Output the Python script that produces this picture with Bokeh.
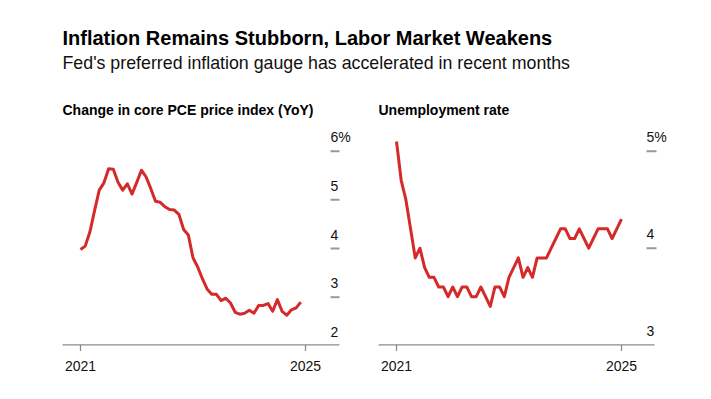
from bokeh.plotting import figure
from bokeh.models import Range1d
from bokeh.core.properties import value
from bokeh.embed import file_html
from bokeh.resources import INLINE

# ---------------- data ----------------
title = "Inflation Remains Stubborn, Labor Market Weakens"
subtitle = "Fed's preferred inflation gauge has accelerated in recent months"
left_title = "Change in core PCE price index (YoY)"
right_title = "Unemployment rate"

# months since Jan 2021
pce_months = list(range(48))
pce = [3.98, 4.05, 4.34, 4.78, 5.20, 5.35, 5.64, 5.63, 5.36, 5.20, 5.33, 5.12,
       5.36, 5.61, 5.47, 5.23, 4.97, 4.95, 4.86, 4.80, 4.79, 4.70, 4.39, 4.28,
       3.81, 3.62, 3.38, 3.17, 3.06, 3.06, 2.93, 2.98, 2.88, 2.69, 2.65, 2.67,
       2.73, 2.67, 2.83, 2.83, 2.87, 2.71, 2.95, 2.71, 2.63, 2.74, 2.78, 2.90]

unemp_months = list(range(49))
unemp = [5.1, 4.7, 4.5, 4.2, 3.9, 4.0, 3.8, 3.7, 3.7, 3.6, 3.6, 3.5,
         3.6, 3.5, 3.6, 3.6, 3.5, 3.5, 3.6, 3.5, 3.4, 3.6, 3.6, 3.5,
         3.7, 3.8, 3.9, 3.7, 3.8, 3.7, 3.9, 3.9, 3.9, 4.0, 4.1, 4.2,
         4.2, 4.1, 4.1, 4.2, 4.1, 4.0, 4.1, 4.2, 4.2, 4.2, 4.1, 4.2, 4.3]

x_tick_pos = [0, 48]
x_tick_labels = ["2021", "2025"]

pce_label_vals = [2, 3, 4, 5, 6]
pce_label_text = ["2", "3", "4", "5", "6%"]
pce_tick_vals = [3, 4, 5, 6]

unemp_label_vals = [3, 4, 5]
unemp_label_text = ["3", "4", "5%"]
unemp_tick_vals = [4, 5]

# ---------------- layout helpers ----------------
W, H = 695, 383
FONT = value("Liberation Sans")
RED = "#d42a2a"
GRAY = "#8c8c8c"


def X(px):  # page x -> figure pixel coordinate
    return px


def Y(py):  # page y -> figure coordinate (bottom-up)
    return H - py


def lin_range(pa, va, pb, vb, total):
    s = (pb - pa) / (vb - va)
    start = va - pa / s
    return Range1d(start, start + total / s)


p = figure(width=W, height=H, x_range=Range1d(0, W), y_range=Range1d(0, H),
           output_backend="svg", toolbar_location=None,
           x_axis_type=None, y_axis_type=None, min_border=0,
           outline_line_color=None, background_fill_color="white",
           border_fill_color="white")
p.grid.visible = False

p.extra_x_ranges = {
    "L": lin_range(X(80), 0, X(305), 48, W),
    "R": lin_range(X(396), 0, X(621), 48, W),
}
p.extra_y_ranges = {
    "L": lin_range(Y(296.7), 3, Y(150.7), 6, H),
    "R": lin_range(Y(247.7), 4, Y(150.7), 5, H),
}

# titles
p.text(x=[X(62)], y=[Y(37)], text=[title], text_font=FONT,
       text_font_size="20px", text_font_style="bold", text_color="#000000",
       text_baseline="middle")
p.text(x=[X(62)], y=[Y(62.8)], text=[subtitle], text_font=FONT,
       text_font_size="17.8px", text_color="#111111",
       text_baseline="middle")
p.text(x=[X(62), X(378)], y=[Y(109.5)] * 2, text=[left_title, right_title],
       text_font=FONT, text_font_size="14px", text_font_style="bold",
       text_color="#000000", text_baseline="middle")

# baselines
p.segment(x0=[X(62), X(378)], x1=[X(339), X(654)], y0=[Y(344.3)] * 2,
          y1=[Y(344.3)] * 2, line_color=GRAY, line_width=1.3)

for name, lvals, ltext, tvals, dash_x0, dash_x1 in [
        ("L", pce_label_vals, pce_label_text, pce_tick_vals, X(330), X(339)),
        ("R", unemp_label_vals, unemp_label_text, unemp_tick_vals, X(646), X(656))]:
    # x ticks and labels
    p.segment(x0=x_tick_pos, x1=x_tick_pos, y0=[Y(344.3)] * 2, y1=[Y(350.5)] * 2,
              x_range_name=name, line_color=GRAY, line_width=1.3)
    p.text(x=x_tick_pos, y=[Y(365.7)] * 2, text=x_tick_labels, x_range_name=name,
           text_font=FONT, text_font_size="14px", text_color="#111111",
           text_align="center", text_baseline="middle")
    # y tick dashes
    p.segment(x0=[dash_x0] * len(tvals), x1=[dash_x1] * len(tvals), y0=tvals, y1=tvals,
              y_range_name=name, line_color="#999999", line_width=2)
    # y labels above dashes
    p.text(x=[dash_x0] * len(lvals), y=lvals, text=ltext, y_range_name=name,
           text_font=FONT, text_font_size="14px", text_color="#111111",
           text_align="left", text_baseline="middle", y_offset=-14)

p.line(pce_months, pce, x_range_name="L", y_range_name="L",
       line_color=RED, line_width=3, line_join="round")
p.line(unemp_months, unemp, x_range_name="R", y_range_name="R",
       line_color=RED, line_width=3, line_join="round")

open("out.html", "w").write(file_html(p, INLINE))
